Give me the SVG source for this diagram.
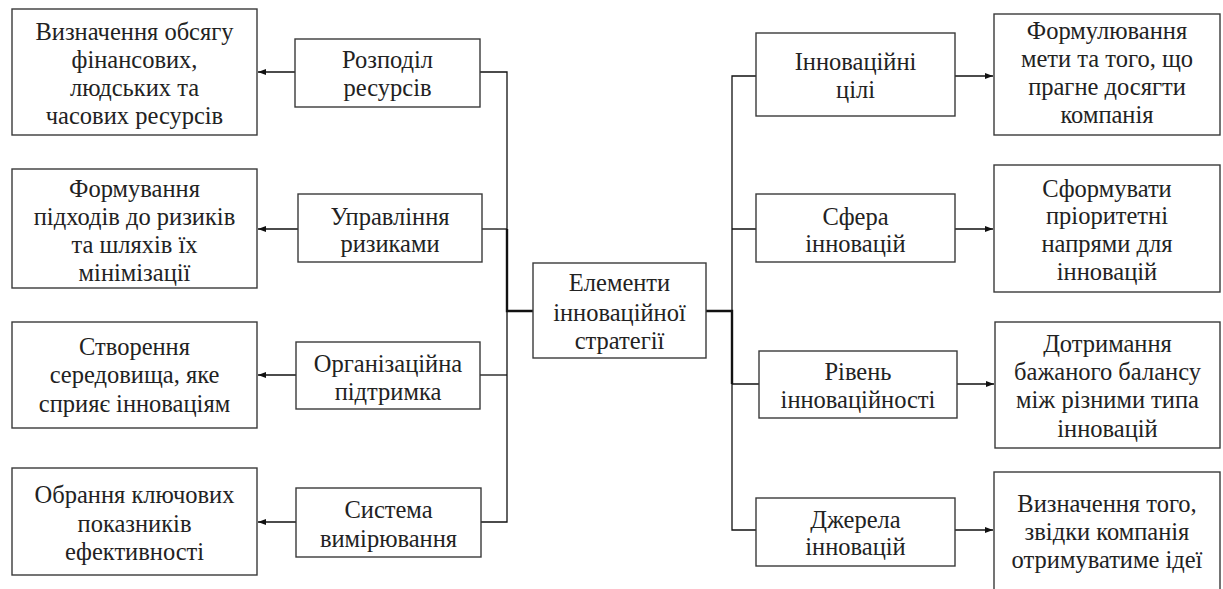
<svg xmlns="http://www.w3.org/2000/svg" width="1223" height="589" viewBox="0 0 1223 589">
<style>
.box{fill:#fff;stroke:#3a3a3a;stroke-width:1.4}
.t{font-family:'Liberation Serif','Times New Roman',serif;font-size:24.5px;fill:#222;text-anchor:middle}
.c{fill:none;stroke:#111;stroke-width:1.3}
.ct{fill:none;stroke:#111;stroke-width:2.4}
</style>
<defs>
<marker id="ah" markerWidth="8" markerHeight="6" refX="8" refY="3" orient="auto" markerUnits="userSpaceOnUse">
<path d="M0,0 L8,3 L0,6 z" fill="#111"/>
</marker>
</defs>
<rect width="1223" height="589" fill="#fff"/>
<g id="connectors">
<path class="c" d="M480,72 H507 V522 H481"/>
<path class="c" d="M482,229 H507"/>
<path class="c" d="M480,375 H507"/>
<path class="ct" d="M507,229 V311 H533"/>
<path class="c" d="M955,76 H732 V530 H756"/>
<path class="c" d="M955,229 H732"/>
<path class="c" d="M957,384 H732"/>
<path class="ct" d="M706,311 H732 V384"/>
<path class="c" d="M295,72 H258" marker-end="url(#ah)"/>
<path class="c" d="M298,229 H258" marker-end="url(#ah)"/>
<path class="c" d="M296,375 H258" marker-end="url(#ah)"/>
<path class="c" d="M296,522 H258" marker-end="url(#ah)"/>
<path class="c" d="M955,76 H993" marker-end="url(#ah)"/>
<path class="c" d="M955,229 H993" marker-end="url(#ah)"/>
<path class="c" d="M957,384 H994" marker-end="url(#ah)"/>
<path class="c" d="M955,530 H993" marker-end="url(#ah)"/>
</g>
<g id="center">
<rect class="box" x="533" y="263" width="173" height="95"/>
<text class="t" x="619.5" y="291">Елементи</text>
<text class="t" x="619.5" y="321">інноваційної</text>
<text class="t" x="619.5" y="349">стратегії</text>
</g>
<g id="m1">
<rect class="box" x="295" y="39" width="185" height="68"/>
<text class="t" x="387.5" y="68">Розподіл</text>
<text class="t" x="387.5" y="96">ресурсів</text>
</g>
<g id="m2">
<rect class="box" x="298" y="194" width="184" height="68"/>
<text class="t" x="390" y="225">Управління</text>
<text class="t" x="390" y="252">ризиками</text>
</g>
<g id="m3">
<rect class="box" x="296" y="342" width="184" height="67"/>
<text class="t" x="388" y="372">Організаційна</text>
<text class="t" x="388" y="400">підтримка</text>
</g>
<g id="m4">
<rect class="box" x="296" y="488" width="185" height="69"/>
<text class="t" x="388.5" y="518">Система</text>
<text class="t" x="388.5" y="547">вимірювання</text>
</g>
<g id="l1">
<rect class="box" x="12" y="9" width="245" height="126"/>
<text class="t" x="134.5" y="40">Визначення обсягу</text>
<text class="t" x="134.5" y="68">фінансових,</text>
<text class="t" x="134.5" y="96">людських та</text>
<text class="t" x="134.5" y="124">часових ресурсів</text>
</g>
<g id="l2">
<rect class="box" x="12" y="169" width="245" height="119"/>
<text class="t" x="134.5" y="197">Формування</text>
<text class="t" x="134.5" y="225">підходів до ризиків</text>
<text class="t" x="134.5" y="253">та шляхів їх</text>
<text class="t" x="134.5" y="281">мінімізації</text>
</g>
<g id="l3">
<rect class="box" x="12" y="322" width="245" height="106"/>
<text class="t" x="134.5" y="355">Створення</text>
<text class="t" x="134.5" y="383">середовища, яке</text>
<text class="t" x="134.5" y="412">сприяє інноваціям</text>
</g>
<g id="l4">
<rect class="box" x="12" y="468" width="245" height="107"/>
<text class="t" x="134.5" y="503">Обрання ключових</text>
<text class="t" x="134.5" y="532">показників</text>
<text class="t" x="134.5" y="560">ефективності</text>
</g>
<g id="r1m">
<rect class="box" x="756" y="33" width="199" height="83"/>
<text class="t" x="855.5" y="70">Інноваційні</text>
<text class="t" x="855.5" y="98">цілі</text>
</g>
<g id="r2m">
<rect class="box" x="756" y="194" width="199" height="68"/>
<text class="t" x="855.5" y="225">Сфера</text>
<text class="t" x="855.5" y="252">інновацій</text>
</g>
<g id="r3m">
<rect class="box" x="759" y="351" width="198" height="67"/>
<text class="t" x="858" y="380">Рівень</text>
<text class="t" x="858" y="408">інноваційності</text>
</g>
<g id="r4m">
<rect class="box" x="756" y="498" width="199" height="68"/>
<text class="t" x="855.5" y="528">Джерела</text>
<text class="t" x="855.5" y="555">інновацій</text>
</g>
<g id="r1">
<rect class="box" x="994" y="14" width="226" height="121"/>
<text class="t" x="1107" y="39">Формулювання</text>
<text class="t" x="1107" y="67">мети та того, що</text>
<text class="t" x="1107" y="95">прагне досягти</text>
<text class="t" x="1107" y="123">компанія</text>
</g>
<g id="r2">
<rect class="box" x="994" y="165" width="226" height="127"/>
<text class="t" x="1107" y="197">Сформувати</text>
<text class="t" x="1107" y="224">пріоритетні</text>
<text class="t" x="1107" y="252">напрями для</text>
<text class="t" x="1107" y="280">інновацій</text>
</g>
<g id="r3">
<rect class="box" x="995" y="322" width="225" height="126"/>
<text class="t" x="1107.5" y="352">Дотримання</text>
<text class="t" x="1107.5" y="380">бажаного балансу</text>
<text class="t" x="1107.5" y="408">між різними типа</text>
<text class="t" x="1107.5" y="437">інновацій</text>
</g>
<g id="r4">
<rect class="box" x="994" y="472" width="226" height="125"/>
<text class="t" x="1107" y="512">Визначення того,</text>
<text class="t" x="1107" y="540">звідки компанія</text>
<text class="t" x="1107" y="568">отримуватиме ідеї</text>
</g>
</svg>
